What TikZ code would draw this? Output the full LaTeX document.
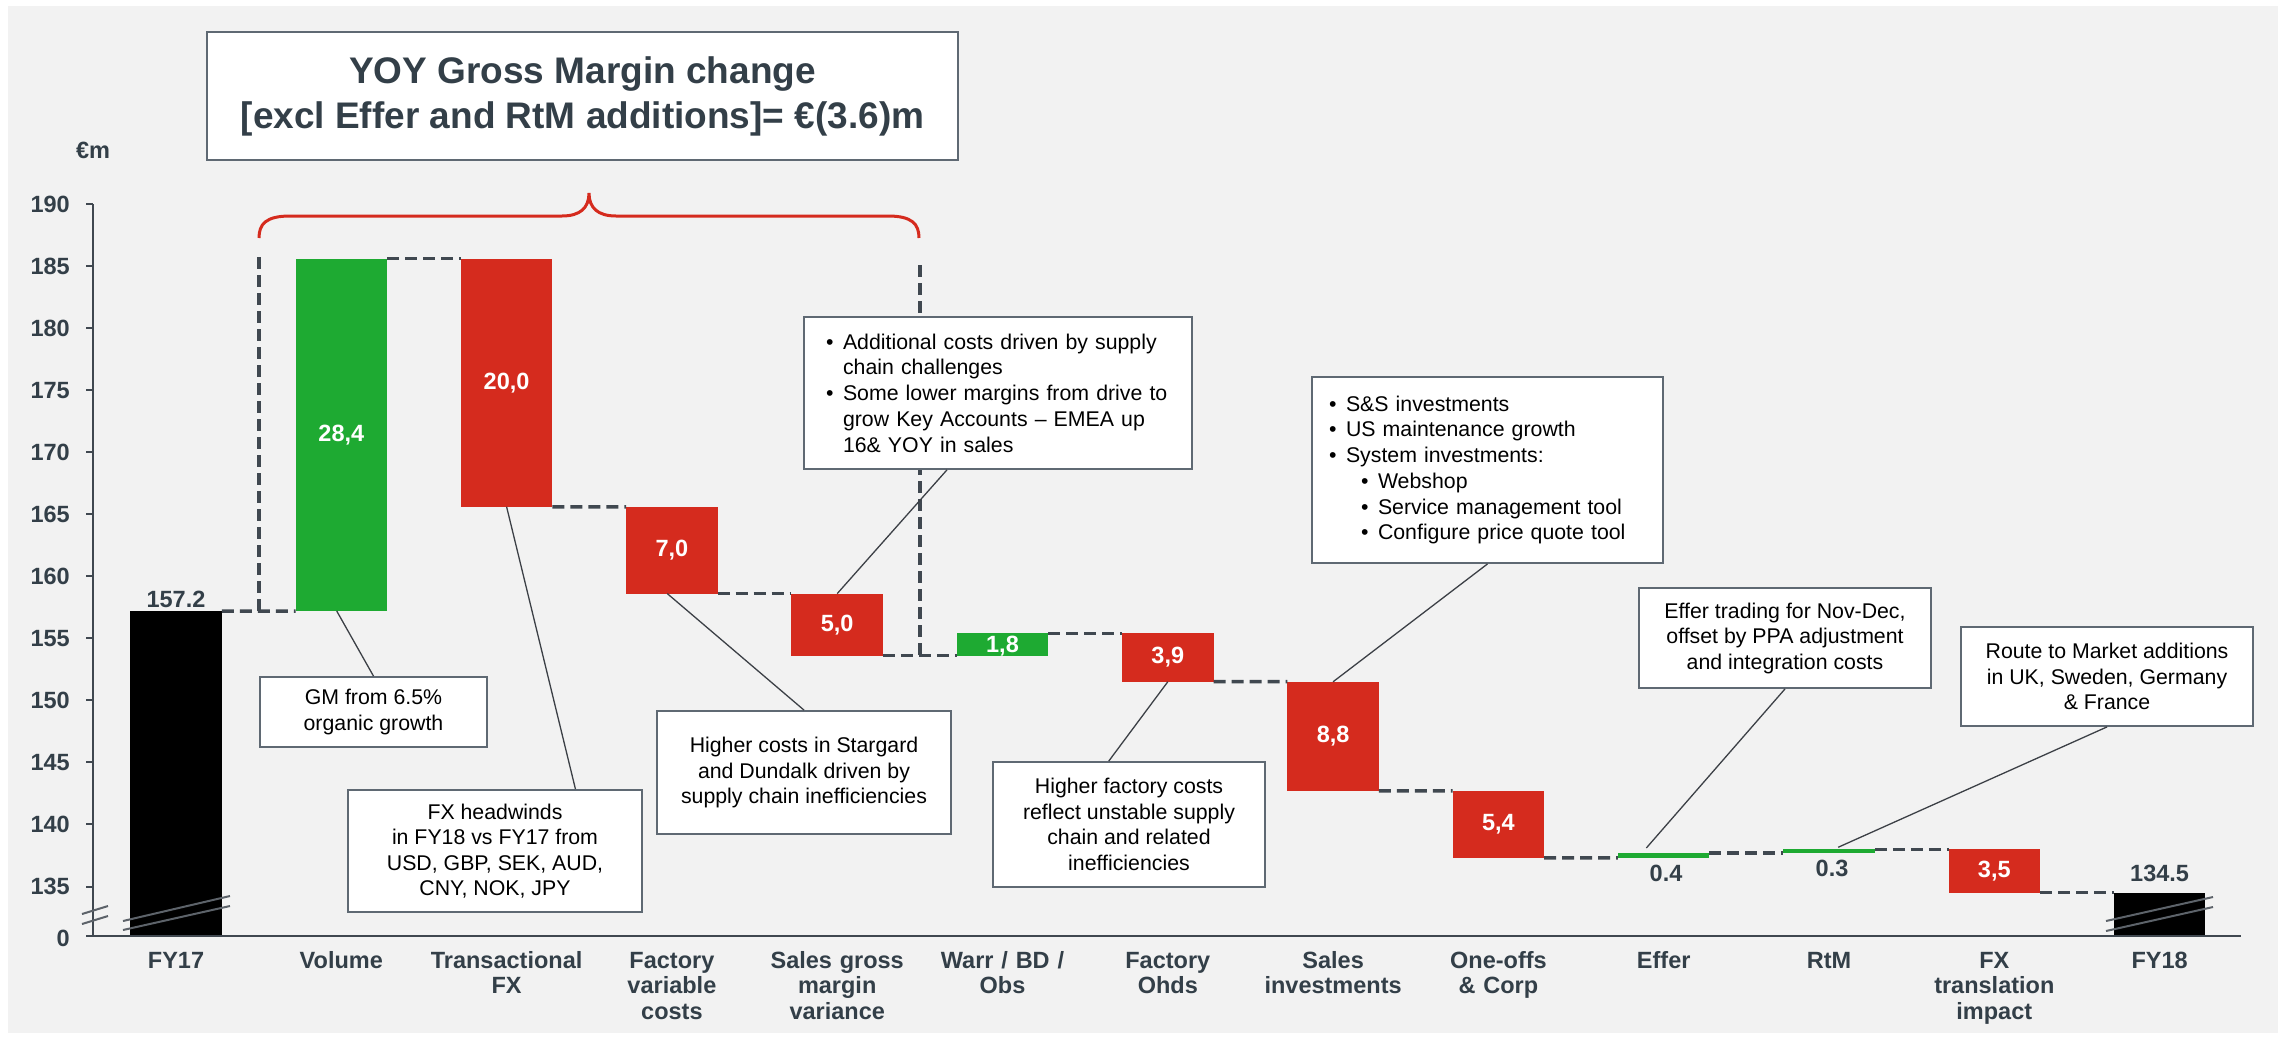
\documentclass[tikz,border=0pt]{standalone}
\usepackage{fontspec}
\setmainfont{Liberation Sans}
\usetikzlibrary{calc}
\definecolor{bgc}{RGB}{242,242,242}
\definecolor{redc}{RGB}{213,43,30}
\definecolor{greenc}{RGB}{30,170,50}
\definecolor{ink}{RGB}{51,63,72}
\definecolor{dashc}{RGB}{64,72,80}
\definecolor{boxc}{RGB}{95,105,115}
\definecolor{leadc}{RGB}{60,64,70}
\newcommand\bmk{\makebox[17pt][l]{\textbullet}}
\newcommand\bind{\hspace*{17pt}}
\begin{document}
\begin{tikzpicture}[x=1pt,y=-1pt,
  wbar/.style={inner sep=0pt,outer sep=0pt,minimum width=91.5pt,anchor=north,draw=none},
  vlab/.style={font=\fontsize{23.5}{26}\selectfont\bfseries,text=white,inner sep=0pt},
  glab/.style={font=\fontsize{23.5}{26}\selectfont\bfseries,text=ink,inner sep=0pt,anchor=base},
  catlab/.style={font=\fontsize{23.5}{25.5}\selectfont\bfseries,text=ink,inner sep=0pt,anchor=base,text width=170pt,align=center},
  ticklab/.style={font=\fontsize{23.5}{26}\selectfont\bfseries,text=ink,inner sep=0pt,anchor=east},
  dashln/.style={draw=dashc,line width=3.5pt,dash pattern=on 12pt off 6pt},
  axisln/.style={draw=dashc,line width=2pt},
  callout/.style={draw=boxc,line width=1.8pt,fill=white,inner sep=0pt,font=\fontsize{21.3}{25.5}\selectfont,text=black,align=center},
  bulletbox/.style={draw=boxc,line width=1.8pt,fill=white,inner ysep=0pt,font=\fontsize{21.3}{25.7}\selectfont,text=black,align=left},
  leader/.style={draw=leadc,line width=1.3pt},
  brk/.style={draw=dashc!85,line width=2pt},
]
\useasboundingbox (0,0) rectangle (2285,1039);
\fill[white] (0,0) rectangle (2285,1039);
\fill[bgc] (8,6) rectangle (2278,1033);

% title
\node[draw=boxc,line width=2pt,fill=white,minimum width=751pt,minimum height=128pt,inner sep=0pt,align=center,text=ink,font=\fontsize{37}{45}\selectfont\bfseries] (title) at (582.5,96) {YOY Gross Margin change\\{[}excl Effer and RtM additions{]}= €(3.6)m};

% brace
\draw[redc,line width=3pt] (259,238) .. controls (259,224) and (266,216) .. (290,216) -- (562,216) .. controls (580,216) and (589,208) .. (589,193) .. controls (589,208) and (598,216) .. (616,216) -- (888,216) .. controls (912,216) and (919,224) .. (919,238);

% bars
\node[wbar,fill=black,minimum height=325pt] (fy17) at (176,611) {};
\node[wbar,fill=greenc,minimum height=352.45pt] (vol) at (341.3,258.55) {};
\node[wbar,fill=redc,minimum height=248.2pt] (fx) at (506.6,258.55) {};
\node[wbar,fill=redc,minimum height=86.87pt] (fv) at (671.9,506.75) {};
\node[wbar,fill=redc,minimum height=62.05pt] (sgm) at (837.2,593.62) {};
\node[wbar,fill=greenc,minimum height=22.33pt] (warr) at (1002.5,633.34) {};
\node[wbar,fill=redc,minimum height=48.39pt] (ohds) at (1167.8,633.34) {};
\node[wbar,fill=redc,minimum height=109.21pt] (sinv) at (1333.1,681.73) {};
\node[wbar,fill=redc,minimum height=67.02pt] (oo) at (1498.4,790.94) {};
\node[wbar,fill=greenc,minimum height=4.97pt] (eff) at (1663.7,852.99) {};
\node[wbar,fill=greenc,minimum height=3.72pt] (rtm) at (1829,849.27) {};
\node[wbar,fill=redc,minimum height=43.43pt] (fxt) at (1994.3,849.27) {};
\node[wbar,fill=black,minimum height=43.3pt] (fy18) at (2159.6,892.7) {};

% dashed connectors
\coordinate (lt) at (259,257);
\coordinate (rt) at (920,265);
\draw[dashln] (lt) -- (lt |- fy17.north);
\draw[dashln] (rt) -- (rt |- sgm.south);
\draw[dashln] (fy17.north east) -- (vol.south west);
\draw[dashln] (vol.north east) -- (fx.north west);
\draw[dashln] (fx.south east) -- (fv.north west);
\draw[dashln] (fv.south east) -- (sgm.north west);
\draw[dashln] (sgm.south east) -- (warr.south west);
\draw[dashln] (warr.north east) -- (ohds.north west);
\draw[dashln] (ohds.south east) -- (sinv.north west);
\draw[dashln] (sinv.south east) -- (oo.north west);
\draw[dashln] (oo.south east) -- (eff.south west);
\draw[dashln] (eff.north east) -- (rtm.south west);
\draw[dashln] (rtm.north east) -- (fxt.north west);
\draw[dashln] (fxt.south east) -- (fy18.north west);

% axes
\coordinate (axtop) at (93.3,204);
\coordinate (ax0) at (93.3,936);
\coordinate (axl) at (86,936);
\coordinate (axend) at (2241,936);
\draw[axisln] (axtop) -- (ax0);
\draw[axisln] (axl) -- (axend);
\foreach \v in {135,140,...,190}{
  \draw[axisln] (86,{886.5-(\v-135)*12.41}) -- (93.3,{886.5-(\v-135)*12.41});
  \node[ticklab] (t\v) at (70,{886.5-(\v-135)*12.41}) {\v};
}
\node[ticklab] (t0) at (70,938) {0};
\node[glab,anchor=center] (unit) at (93,150) {€m};

% axis breaks
\draw[brk] (82,914) -- (108,906);
\draw[brk] (82,924) -- (108,916);
\draw[brk] (123,921) -- (230,896);
\draw[brk] (123,930) -- (230,906);
\draw[brk] (2106,921) -- (2213,897);
\draw[brk] (2106,931) -- (2213,907);

% values
\node[vlab] at (vol.center) {28,4};
\node[vlab] at (fx.center) {20,0};
\node[vlab] at (fv.center) {7,0};
\node[vlab] at (sgm.center) {5,0};
\node[vlab] at ($(warr.center)+(0,2)$) {1,8};
\node[vlab] at (ohds.center) {3,9};
\node[vlab] at (sinv.center) {8,8};
\node[vlab] at (oo.center) {5,4};
\node[vlab] at (fxt.center) {3,5};
\node[glab] (l157) at (176,607) {157.2};
\node[glab] (l134) at (2159.6,881) {134.5};
\node[glab] (l04) at (1666,881) {0.4};
\node[glab] (l03) at (1832,876) {0.3};

% category labels
\node[catlab] (c0) at (176,968) {FY17};
\node[catlab] (c1) at (341.3,968) {Volume};
\node[catlab] (c2) at (506.6,968) {Transactional\\FX};
\node[catlab] (c3) at (671.9,968) {Factory\\variable\\costs};
\node[catlab] (c4) at (837.2,968) {Sales gross\\margin\\variance};
\node[catlab] (c5) at (1002.5,968) {Warr / BD /\\Obs};
\node[catlab] (c6) at (1167.8,968) {Factory\\Ohds};
\node[catlab] (c7) at (1333.1,968) {Sales\\investments};
\node[catlab] (c8) at (1498.4,968) {One-offs\\\& Corp};
\node[catlab] (c9) at (1663.7,968) {Effer};
\node[catlab] (c10) at (1829,968) {RtM};
\node[catlab] (c11) at (1994.3,968) {FX\\translation\\impact};
\node[catlab] (c12) at (2159.6,968) {FY18};

% callouts
\node[callout,minimum width=227pt,minimum height=70pt] (cgm) at (373.5,712) {GM from 6.5\%\\organic growth};
\node[callout,minimum width=294pt,minimum height=122pt] (cfx) at (495,851) {FX headwinds\\in FY18 vs FY17 from\\USD, GBP, SEK, AUD,\\CNY, NOK, JPY};
\node[callout,minimum width=294pt,minimum height=123pt] (csg) at (804,772.5) {Higher costs in Stargard\\and Dundalk driven by\\supply chain inefficiencies};
\node[callout,minimum width=272pt,minimum height=125pt] (coh) at (1129,824.5) {Higher factory costs\\reflect unstable supply\\chain and related\\inefficiencies};
\node[callout,minimum width=292pt,minimum height=100pt] (cef) at (1785,638) {Effer trading for Nov-Dec,\\offset by PPA adjustment\\and integration costs};
\node[callout,minimum width=292pt,minimum height=99pt] (crt) at (2107,676.5) {Route to Market additions\\in UK, Sweden, Germany\\\& France};
\node[bulletbox,inner xsep=22pt,text width=344pt,minimum height=152pt] (csc) at (998,393) {\bmk Additional costs driven by supply\\\bind chain challenges\\\bmk Some lower margins from drive to\\\bind grow Key Accounts – EMEA up\\\bind 16\& YOY in sales};
\node[bulletbox,inner xsep=17pt,text width=317pt,minimum height=186pt] (csi) at (1487.5,470) {\bmk S\&S investments\\\bmk US maintenance growth\\\bmk System investments:\\\hspace*{32pt}\bmk Webshop\\\hspace*{32pt}\bmk Service management tool\\\hspace*{32pt}\bmk Configure price quote tool};

% leaders
\draw[leader] ($(vol.south west)!0.45!(vol.south east)$) -- (cgm.north);
\draw[leader] (fx.south) -- ($(cfx.north west)!0.772!(cfx.north east)$);
\draw[leader] ($(fv.south west)!0.45!(fv.south east)$) -- (csg.north);
\draw[leader] (sgm.north) -- ($(csc.south west)!0.369!(csc.south east)$);
\draw[leader] (ohds.south) -- ($(coh.north west)!0.426!(coh.north east)$);
\draw[leader] (sinv.north) -- (csi.south);
\draw[leader] ($(eff.north west)!0.31!(eff.north east)+(0,-5)$) -- (cef.south);
\draw[leader] ($(rtm.north west)!0.6!(rtm.north east)+(0,-2)$) -- (crt.south);
\end{tikzpicture}
\end{document}
